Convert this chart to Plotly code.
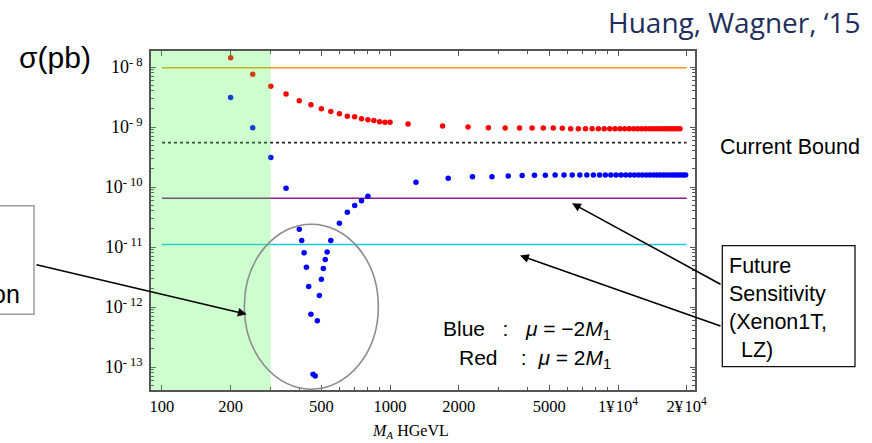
import plotly.graph_objects as go

# ---------------------------------------------------------------- data
# Red: mu = 2 M1
mass_red = [200, 250, 300, 350, 400, 450, 500, 550, 600, 650, 700, 750, 800,
            850, 900, 950, 1000,
            1200, 1700, 2200, 2700, 3200, 3700, 4200, 4700, 5200, 5700,
            6200, 6700, 7200, 7700, 8200, 8700, 9200, 9700, 10200, 10700,
            11200, 11700, 12200, 12700, 13200, 13700, 14200, 14700, 15200,
            15700, 16200, 16700, 17200, 17700, 18200, 18700]
sigma_red = [1.43e-8, 7.6e-9, 4.8e-9, 3.55e-9, 2.75e-9, 2.35e-9, 2.02e-9,
             1.82e-9, 1.66e-9, 1.51e-9, 1.48e-9, 1.38e-9, 1.32e-9, 1.29e-9,
             1.23e-9, 1.20e-9, 1.20e-9,
             1.12e-9, 1.04e-9, 1.00e-9, 9.7e-10, 9.6e-10, 9.6e-10, 9.6e-10,
             9.6e-10, 9.6e-10, 9.5e-10,
             9.4e-10, 9.4e-10, 9.4e-10, 9.4e-10, 9.4e-10, 9.4e-10, 9.4e-10,
             9.4e-10, 9.4e-10, 9.4e-10, 9.4e-10, 9.4e-10, 9.4e-10, 9.4e-10,
             9.4e-10, 9.4e-10, 9.4e-10, 9.4e-10, 9.4e-10, 9.4e-10, 9.4e-10,
             9.4e-10, 9.4e-10, 9.4e-10, 9.4e-10, 9.4e-10]

# Blue: mu = -2 M1
mass_blue = [200, 250, 300, 350, 400, 410, 420, 430, 440, 450, 460, 470, 480,
             490, 500, 510, 520, 530, 550, 600, 650, 700, 750, 800,
             1300, 1800, 2300, 2800, 3300, 3800, 4300, 4800, 5300, 5800,
             6300, 6800, 7300, 7800, 8300, 8800, 9300, 9800, 10300, 10800,
             11300, 11800, 12300, 12800, 13300, 13800, 14300, 14800, 15300,
             15800, 16300, 16800, 17300, 17800, 18300, 18800, 19300, 19800]
sigma_blue = [3.1e-9, 9.7e-10, 3.1e-10, 9.5e-11, 1.97e-11, 1.29e-11, 8.0e-12,
              4.6e-12, 2.2e-12, 7.6e-13, 7.6e-14, 7.1e-14, 5.9e-13, 1.55e-12,
              2.9e-12, 4.4e-12, 6.2e-12, 8.3e-12, 1.29e-11, 2.5e-11, 3.8e-11,
              4.9e-11, 5.9e-11, 7.0e-11,
              1.20e-10, 1.40e-10, 1.48e-10, 1.49e-10, 1.52e-10, 1.56e-10,
              1.57e-10, 1.57e-10, 1.58e-10, 1.58e-10, 1.58e-10, 1.58e-10,
              1.58e-10, 1.58e-10, 1.58e-10, 1.58e-10, 1.58e-10, 1.58e-10,
              1.58e-10, 1.58e-10, 1.58e-10, 1.58e-10, 1.58e-10, 1.58e-10,
              1.58e-10, 1.58e-10, 1.58e-10, 1.58e-10, 1.58e-10, 1.58e-10,
              1.58e-10, 1.58e-10, 1.58e-10, 1.58e-10, 1.58e-10, 1.58e-10,
              1.58e-10, 1.58e-10]

# Horizontal reference limits (pb)
limit_span = [100, 20000]
limit_orange = 9.7e-9
limit_current = 5.5e-10
limit_xenon1t = 6.5e-11
limit_lz = 1.1e-11

# Shaded low-mass region upper edge (GeV)
shade_edge = 300

# Axis ticks
x_tickvals = [100, 200, 500, 1000, 2000, 5000, 10000, 20000]
x_ticktext = ["100", "200", "500", "1000", "2000", "5000",
              "1\u00a5\u200a10<sup>4</sup>", "2\u00a5\u200a10<sup>4</sup>"]
y_tickvals = [1e-8, 1e-9, 1e-10, 1e-11, 1e-12, 1e-13]
y_ticktext = ["10<sup>-\u00a08</sup>", "10<sup>-\u00a09</sup>",
              "10<sup>-\u00a010</sup>", "10<sup>-\u00a011</sup>",
              "10<sup>-\u00a012</sup>", "10<sup>-\u00a013</sup>"]

# ---------------------------------------------------------------- layout geometry
W, H = 872, 443
L, R, T, B = 151, 177, 51, 53
PW, PH = W - L - R, H - T - B
x_range = [1.9518, 4.3377]
y_range = [-13.383, -7.733]


def px(x):
    return (x - L) / PW


def py(y):
    return (H - B - y) / PH


x_minor = [m * 10 ** e for e in (1, 2, 3, 4) for m in range(2, 10)]
x_minor = [v for v in x_minor if v not in x_tickvals]
y_minor = [m * 10.0 ** e for e in range(-14, -7) for m in range(2, 10)]

AXIS = "#555555"
SERIF = "Liberation Serif, Times New Roman, serif"
SANS = "Liberation Sans, Arial, sans-serif"
NB = "\u00a0"

fig = go.Figure()

for val, color, dash in [(limit_orange, "#F39A1E", "solid"),
                         (limit_current, "#222222", "dot"),
                         (limit_xenon1t, "#8B1A8B", "solid"),
                         (limit_lz, "#1CC8EC", "solid")]:
    fig.add_trace(go.Scatter(x=limit_span, y=[val, val], mode="lines",
                             line=dict(color=color, width=1.6, dash=dash),
                             hoverinfo="skip", showlegend=False))

fig.add_trace(go.Scatter(x=mass_red, y=sigma_red, mode="markers",
                         marker=dict(color="#FF0000", size=5.5),
                         showlegend=False, name="mu = 2M1"))
fig.add_trace(go.Scatter(x=mass_blue, y=sigma_blue, mode="markers",
                         marker=dict(color="#0000FF", size=5.5),
                         showlegend=False, name="mu = -2M1"))

shapes = [
    # shaded low-mass band
    dict(type="rect", xref="x", yref="paper", x0=10 ** x_range[0], x1=shade_edge,
         y0=0, y1=1, fillcolor="rgb(60,255,60)", opacity=0.25,
         line=dict(width=0), layer="above"),
    # ellipse around the resonance dip
    dict(type="circle", xref="x", yref="y", x0=229.6, x1=889, y0=4.27e-14,
         y1=2.4e-11, line=dict(color="#8C8C8C", width=1.6), layer="above"),
    # box on the left edge
    dict(type="rect", xref="paper", yref="paper", x0=px(-60), x1=px(34),
         y0=py(314.3), y1=py(205.7), line=dict(color="#9A9A9A", width=1.5)),
    # Future sensitivity box
    dict(type="rect", xref="paper", yref="paper", x0=px(722.3), x1=px(855),
         y0=py(366.7), y1=py(245.7), line=dict(color="#111111", width=1.3)),
]

annotations = [
    dict(text="Huang, Wagner, \u201815", x=px(863), y=py(22), xref="paper",
         yref="paper", xanchor="right", yanchor="middle", showarrow=False,
         font=dict(family="Open Sans, sans-serif", size=28, color="#1F2E5C")),
    dict(text="\u03c3(pb)", x=px(17), y=py(57), xref="paper", yref="paper",
         xanchor="left", yanchor="middle", showarrow=False,
         font=dict(family=SANS, size=30, color="#000000")),
    dict(text="Current Bound", x=px(718), y=py(147), xref="paper",
         yref="paper", xanchor="left", yanchor="middle", showarrow=False,
         font=dict(family=SANS, size=21.5, color="#000000")),
    dict(text="Future<br>Sensitivity<br>(Xenon1T,<br>" + NB * 2 + "LZ)",
         x=px(727), y=py(308), xref="paper", yref="paper", xanchor="left",
         yanchor="middle", align="left", showarrow=False,
         font=dict(family=SANS, size=21.5, color="#000000")),
    dict(text="on", x=px(22), y=py(294), xref="paper", yref="paper",
         xanchor="right", yanchor="middle", showarrow=False,
         font=dict(family=SANS, size=25, color="#000000")),
    dict(text="Blue" + NB * 3 + ":" + NB * 3 + "<i>\u03bc</i>" + NB + "=" + NB
         + "\u22122<i>M</i><sub>1</sub>",
         x=px(613), y=py(330), xref="paper", yref="paper", xanchor="right",
         yanchor="middle", showarrow=False,
         font=dict(family=SANS, size=21, color="#000000")),
    dict(text="Red" + NB * 4 + ":" + NB * 2 + "<i>\u03bc</i>" + NB + "=" + NB
         + "2<i>M</i><sub>1</sub>",
         x=px(613), y=py(359), xref="paper", yref="paper", xanchor="right",
         yanchor="middle", showarrow=False,
         font=dict(family=SANS, size=21, color="#000000")),
    dict(text="<i>M<sub>A</sub></i>" + NB + "HGeVL", x=px(410), y=py(431),
         xref="paper", yref="paper", xanchor="center", yanchor="middle",
         showarrow=False, font=dict(family=SERIF, size=16, color="#000000")),
]

# arrows: (head_x, head_y, tail_x, tail_y) in pixels
arrows = [(246.7, 314.3, 35, 264.3),
          (572, 203.3, 722, 285),
          (520, 255.5, 722, 326.5)]
for hx, hy, tx, ty in arrows:
    annotations.append(dict(text="", x=px(hx), y=py(hy), xref="paper",
                            yref="paper", ax=tx - hx, ay=ty - hy,
                            axref="pixel", ayref="pixel", showarrow=True,
                            arrowhead=2, arrowsize=1.1, arrowwidth=1.6,
                            arrowcolor="#000000"))

fig.update_layout(
    width=W, height=H, margin=dict(l=L, r=R, t=T, b=B, pad=0),
    paper_bgcolor="white", plot_bgcolor="white",
    shapes=shapes, annotations=annotations, showlegend=False,
    xaxis=dict(type="log", range=x_range, tickmode="array",
               tickvals=x_tickvals, ticktext=x_ticktext, ticks="inside",
               ticklen=5, tickwidth=1, tickcolor=AXIS, showline=True,
               linecolor=AXIS, linewidth=1.5, mirror="ticks", showgrid=False,
               zeroline=False, ticklabelstandoff=0,
               tickfont=dict(family=SERIF, size=16.5, color="#000000"),
               minor=dict(tickmode="array", tickvals=x_minor, ticks="inside",
                          ticklen=3, tickcolor=AXIS, showgrid=False)),
    yaxis=dict(type="log", range=y_range, tickmode="array",
               tickvals=y_tickvals, ticktext=y_ticktext, ticks="inside",
               ticklen=5, tickwidth=1, tickcolor=AXIS, showline=True,
               linecolor=AXIS, linewidth=1.5, mirror="ticks", showgrid=False,
               zeroline=False, ticklabelstandoff=3,
               tickfont=dict(family=SERIF, size=18, color="#000000"),
               minor=dict(tickmode="array", tickvals=y_minor, ticks="inside",
                          ticklen=3, tickcolor=AXIS, showgrid=False)),
)

fig.write_html("out.html")
